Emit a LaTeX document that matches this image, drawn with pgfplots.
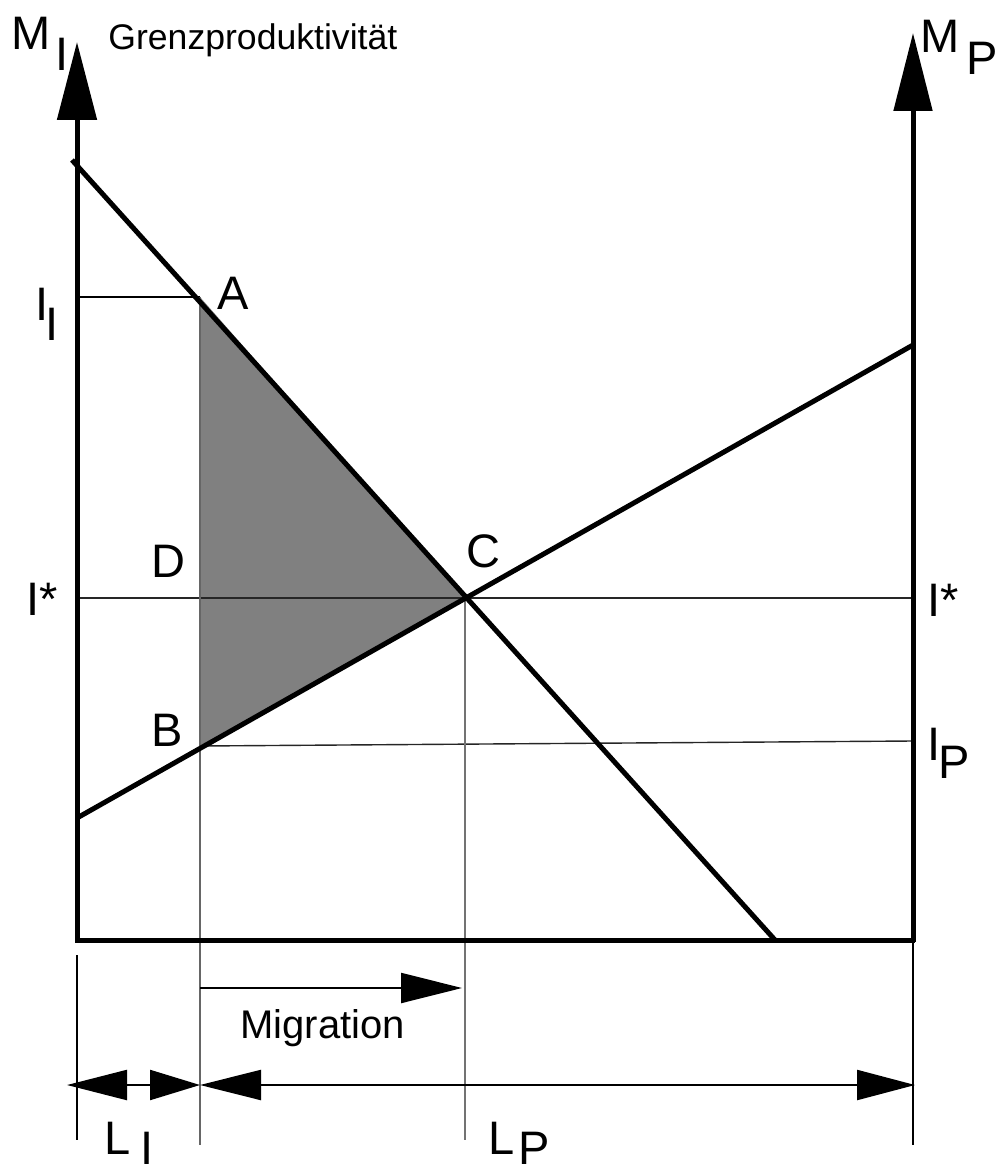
\documentclass[border=0pt]{standalone}
\usepackage{pgfplots}
\pgfplotsset{compat=1.18}
\usepackage{fontspec}
\setmainfont{Liberation Sans}
\usetikzlibrary{arrows.meta}
\begin{document}
\begin{tikzpicture}
\begin{axis}[name=ax, scale only axis, width=502pt, height=588pt,
  xmin=0, xmax=1004, ymin=0, ymax=1176, y dir=reverse,
  hide axis, clip=false]
% shaded triangle A-C-B
\addplot[draw=none, fill=black!50] coordinates {(200,297) (465,598) (200,746) (200,297)};
% thin guide lines
\addplot[black, line width=0.7pt] coordinates {(77,297) (200,297)};
\addplot[black!85, line width=0.7pt] coordinates {(77,598) (913,598)};
\addplot[black!85, line width=0.7pt] coordinates {(200,746) (913,741)};
\addplot[black!60, line width=0.7pt] coordinates {(200,297) (200,1145)};
\addplot[black!55, line width=0.7pt] coordinates {(465,598) (465,1140)};
\addplot[black, line width=0.7pt] coordinates {(77,955) (77,1140)};
\addplot[black, line width=0.7pt] coordinates {(913,940) (913,1145)};
% curves
\addplot[black, line width=2.5pt] coordinates {(72,160) (775,940)};
\addplot[black, line width=2.5pt] coordinates {(77,818) (913,345)};
% axes
\addplot[black, line width=2.5pt, -{Triangle[length=39pt,width=19.5pt]}] coordinates {(77,942) (77,42)};
\addplot[black, line width=2.5pt, -{Triangle[length=39pt,width=19pt]}] coordinates {(913,942) (913,33)};
\addplot[black, line width=2.5pt] coordinates {(75,940) (915,940)};
% migration arrow
\addplot[black, line width=1.1pt, -{Triangle[length=30.5pt,width=15pt]}] coordinates {(200,988) (462,988)};
% dimension arrows
\addplot[black, line width=1.1pt, {Triangle[length=30pt,width=15pt]}-{Triangle[length=25pt,width=15pt]}] coordinates {(67,1085) (200,1085)};
\addplot[black, line width=1.1pt, {Triangle[length=30.5pt,width=15pt]}-{Triangle[length=29pt,width=15pt]}] coordinates {(200,1085) (915,1085)};
% bounding
\addplot[draw=none] coordinates {(0,0) (1004,1176)};
% labels
\begin{scope}[every node/.style={inner sep=0pt, anchor=base west, font=\fontsize{23.5}{23.5}\selectfont}]
\node at (axis cs:11,50) {M};
\node at (axis cs:55,71) {I};
\node at (axis cs:920,53) {M};
\node at (axis cs:966,75) {P};
\node at (axis cs:35,321) {I};
\node at (axis cs:45,340) {I};
\node at (axis cs:217,309) {A};
\node at (axis cs:151,577) {D};
\node at (axis cs:466,567) {C};
\node at (axis cs:26,615) {I*};
\node at (axis cs:927,616) {I*};
\node at (axis cs:151,746) {B};
\node at (axis cs:927,760) {I};
\node at (axis cs:938,778) {P};
\node at (axis cs:104,1154) {L};
\node at (axis cs:140,1164) {I};
\node at (axis cs:488,1154) {L};
\node at (axis cs:518,1164) {P};
\end{scope}
\node[inner sep=0pt, anchor=base west, font=\fontsize{17.8}{17.8}\selectfont] at (axis cs:108,50) {Grenzproduktivität};
\node[inner sep=0pt, anchor=base west, font=\fontsize{20}{20}\selectfont] at (axis cs:240,1038) {Migration};
\end{axis}
\end{tikzpicture}
\end{document}
